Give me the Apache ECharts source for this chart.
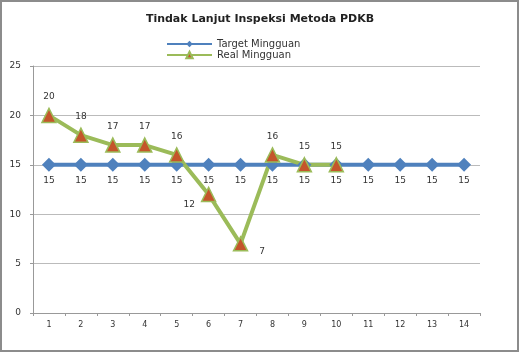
<!DOCTYPE html>
<html><head><meta charset="utf-8">
<script src="https://cdn.jsdelivr.net/npm/echarts@6/dist/echarts.min.js"></script>
<style>html,body{margin:0;padding:0;background:#fff}#c{width:520px;height:353px}</style>
</head><body><div id="c"></div>
<script>
const title = 'Tindak Lanjut Inspeksi Metoda PDKB';
const categories = ['1','2','3','4','5','6','7','8','9','10','11','12','13','14'];
const targetName = 'Target Mingguan';
const realName = 'Real Mingguan';
const targetValues = [15,15,15,15,15,15,15,15,15,15,15,15,15,15];
const realValues = [20,18,17,17,16,12,7,16,15,15,null,null,null,null];
const yTicks = [0,5,10,15,20,25];

const font = 'DejaVu Sans';
const realData = realValues.map((v, i) => {
  if (i === 5) return {value: v, label: {position: 'left', offset: [0, 10]}};
  if (i === 6) return {value: v, label: {position: 'right', offset: [5, 8]}};
  return v;
});

const chart = echarts.init(document.getElementById('c'), null, {renderer: 'canvas'});
chart.setOption({
  animation: false,
  backgroundColor: '#fff',
  title: {text: title, left: 'center', top: 9,
    textStyle: {fontFamily: font, fontSize: 11, fontWeight: 'bold', color: '#222'}},
  legend: {
    orient: 'vertical', left: 161, top: 34, itemWidth: 45, itemHeight: 8, itemGap: 1,
    textStyle: {fontFamily: font, fontSize: 10, color: '#333'},
    data: [targetName, realName]
  },
  graphic: [{type: 'rect', shape: {x: 1, y: 1, width: 517, height: 350},
    style: {fill: 'none', stroke: '#8c8c8c', lineWidth: 2}, silent: true}],
  grid: {left: 33, right: 40, top: 66, bottom: 40},
  xAxis: {
    type: 'category', data: categories, boundaryGap: true,
    axisLine: {lineStyle: {color: '#999'}},
    axisTick: {show: true, length: 3, lineStyle: {color: '#999'}},
    axisLabel: {fontFamily: font, fontSize: 8, color: '#333', margin: 8}
  },
  yAxis: {
    type: 'value', min: yTicks[0], max: yTicks[yTicks.length-1], interval: 5,
    axisLine: {show: true, lineStyle: {color: '#999'}},
    axisTick: {show: true, length: 3, lineStyle: {color: '#999'}},
    splitLine: {lineStyle: {color: '#bbb'}},
    axisLabel: {fontFamily: font, fontSize: 9, color: '#333', margin: 12}
  },
  series: [
    {name: targetName, type: 'line', data: targetValues,
      symbol: 'diamond', symbolSize: 14,
      lineStyle: {color: '#4F81BD', width: 4},
      itemStyle: {color: '#4F81BD'},
      label: {show: true, position: 'bottom', distance: 4,
        fontFamily: font, fontSize: 9, color: '#333'}},
    {name: realName, type: 'line', data: realData,
      symbol: 'triangle', symbolSize: 14,
      lineStyle: {color: '#9BBB59', width: 4},
      itemStyle: {color: '#C4552B', borderColor: '#9BBB59', borderWidth: 1.5},
      label: {show: true, position: 'top', distance: 6,
        fontFamily: font, fontSize: 9, color: '#333'}}
  ]
});
</script></body></html>
